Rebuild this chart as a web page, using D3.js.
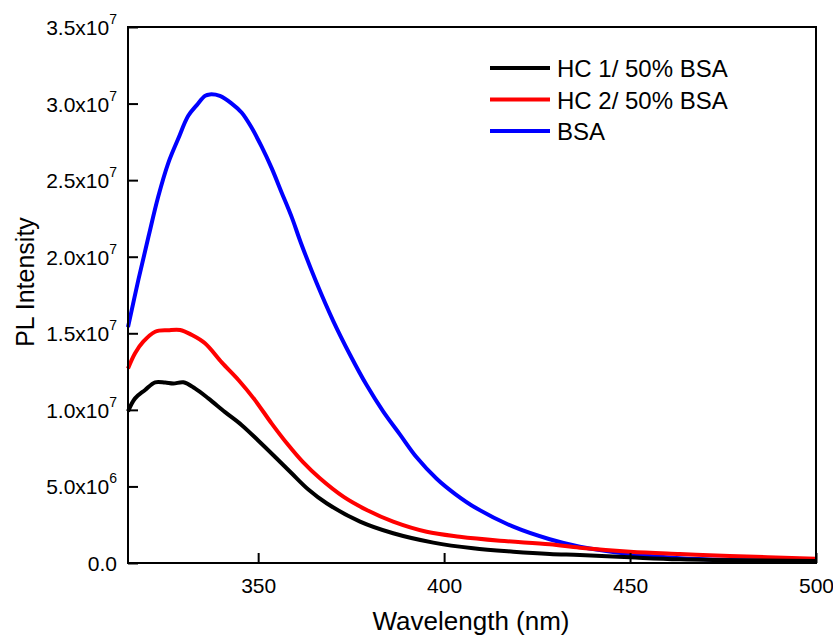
<html lang="en">
<head>
<meta charset="utf-8">
<title>PL Intensity</title>
<script src="https://cdnjs.cloudflare.com/ajax/libs/d3/7.8.5/d3.min.js"></script>
<style>
  body { margin: 0; background: #fff; }
  svg { font-family: Arial, "Liberation Sans", sans-serif; }
</style>
</head>
<body>
<div id="chart"></div>
<script>
// wavelength (nm) / intensity (x1e7)
var blueX = [315, 317.8, 320.5, 323.1, 325.8, 328.5, 331.2, 333.5, 335.7, 337, 339.7, 342.9, 345.6, 348.3, 350.9, 353.6, 356.3, 359, 361.5, 365.7, 370.2, 374.7, 379.2, 383.6, 388.1, 392.6, 398, 403, 408.7, 418.6, 428.4, 436.5, 450, 463.4, 476.8, 500];
var blueY = [1.54, 1.85, 2.13, 2.39, 2.61, 2.77, 2.92, 2.99, 3.05, 3.06, 3.05, 3.00, 2.94, 2.84, 2.72, 2.58, 2.42, 2.26, 2.09, 1.83, 1.58, 1.36, 1.16, 0.99, 0.84, 0.69, 0.55, 0.45, 0.357, 0.237, 0.155, 0.106, 0.059, 0.031, 0.02, 0.013];

var redX = [315, 316.9, 319.1, 322.3, 325.8, 329, 332.1, 335.7, 340.2, 344.7, 349.1, 353.6, 358.1, 362, 366.6, 372.9, 379.2, 386.3, 395.3, 404.2, 415, 428.4, 436.5, 450, 463.4, 476.8, 500];
var redY = [1.27, 1.37, 1.445, 1.51, 1.52, 1.522, 1.49, 1.435, 1.31, 1.195, 1.065, 0.912, 0.77, 0.66, 0.553, 0.433, 0.346, 0.27, 0.204, 0.172, 0.146, 0.122, 0.10, 0.074, 0.059, 0.046, 0.028];

var blackX = [315, 316.9, 319.6, 322.3, 325, 327.2, 329.9, 333, 336.6, 341.1, 345.6, 350, 354.5, 359, 363.5, 368.4, 377.4, 386.3, 397.1, 407.8, 418.6, 428.4, 436.5, 450, 463.4, 500];
var blackY = [0.99, 1.075, 1.13, 1.18, 1.178, 1.172, 1.18, 1.14, 1.075, 0.985, 0.90, 0.80, 0.694, 0.586, 0.48, 0.39, 0.27, 0.194, 0.133, 0.096, 0.074, 0.059, 0.052, 0.037, 0.024, 0.013];

var seriesNames = ["HC 1/ 50% BSA", "HC 2/ 50% BSA", "BSA"];
var seriesColors = ["#000000", "#ff0000", "#0000ff"];

var xTicks = [350, 400, 450, 500];
var yTicks = [0, 0.5e7, 1.0e7, 1.5e7, 2.0e7, 2.5e7, 3.0e7, 3.5e7];
var yTickLabels = [["0.0", ""], ["5.0x10", "6"], ["1.0x10", "7"], ["1.5x10", "7"], ["2.0x10", "7"],
                   ["2.5x10", "7"], ["3.0x10", "7"], ["3.5x10", "7"]];

var W = 833, H = 635;
var plot = {left: 128, right: 816, top: 27, bottom: 563};

var svg = d3.select("#chart").append("svg")
    .attr("width", W)
    .attr("height", H);

var x = d3.scaleLinear().domain([315, 500]).range([plot.left, plot.right]);
var y = d3.scaleLinear().domain([0, 3.5e7]).range([plot.bottom, plot.top]);

function pts(xs, ys) {
    return xs.map(function(d, i) { return [d, ys[i] * 1e7]; });
}
var series = [pts(blackX, blackY), pts(redX, redY), pts(blueX, blueY)];

var line = d3.line()
    .x(function(d) { return x(d[0]); })
    .y(function(d) { return y(d[1]); })
    .curve(d3.curveCatmullRom.alpha(0.5));

// curves, blue first so red/black sit on top near the tail
[2, 1, 0].forEach(function(i) {
    svg.append("path")
        .attr("d", line(series[i]))
        .attr("fill", "none")
        .attr("stroke", seriesColors[i])
        .attr("stroke-width", 4)
        .attr("stroke-linejoin", "round");
});

// frame
svg.append("rect")
    .attr("x", plot.left).attr("y", plot.top)
    .attr("width", plot.right - plot.left).attr("height", plot.bottom - plot.top)
    .attr("fill", "none").attr("stroke", "#000").attr("stroke-width", 2);

// bottom axis, ticks pointing in
var xAxis = svg.append("g")
    .attr("transform", "translate(0," + plot.bottom + ")")
    .call(d3.axisBottom(x).tickValues(xTicks).tickSizeInner(-10).tickSizeOuter(0).tickPadding(15));
xAxis.select(".domain").remove();
xAxis.attr("font-size", 21).attr("font-family", null);
xAxis.selectAll(".tick line").attr("stroke", "#000").attr("stroke-width", 2);
xAxis.selectAll(".tick text").attr("fill", "#000");

// left axis with superscript labels
var yAxis = svg.append("g")
    .attr("transform", "translate(" + plot.left + ",0)")
    .call(d3.axisLeft(y).tickValues(yTicks).tickSizeInner(-10).tickSizeOuter(0).tickFormat(""));
yAxis.select(".domain").remove();
yAxis.selectAll(".tick line").attr("stroke", "#000").attr("stroke-width", 2);

yTicks.forEach(function(v, i) {
    var t = svg.append("text")
        .attr("x", 117)
        .attr("y", y(v) + 8)
        .attr("text-anchor", "end")
        .attr("font-size", 21)
        .attr("fill", "#000");
    t.append("tspan").text(yTickLabels[i][0]);
    if (yTickLabels[i][1]) {
        t.append("tspan").attr("font-size", 14).attr("dy", -11).text(yTickLabels[i][1]);
    }
});

// axis titles
svg.append("text")
    .attr("x", 471).attr("y", 630)
    .attr("text-anchor", "middle")
    .attr("font-size", 26)
    .text("Wavelength (nm)");

svg.append("text")
    .attr("transform", "translate(34,282) rotate(-90)")
    .attr("text-anchor", "middle")
    .attr("font-size", 25)
    .text("PL Intensity");

// legend
var legend = svg.append("g").attr("transform", "translate(490,68)");
seriesNames.forEach(function(name, i) {
    var g = legend.append("g").attr("transform", "translate(0," + (i * 31.5) + ")");
    g.append("line")
        .attr("x1", 0).attr("x2", 60)
        .attr("stroke", seriesColors[i]).attr("stroke-width", 4);
    g.append("text")
        .attr("x", 67).attr("y", 9)
        .attr("font-size", 24)
        .text(name);
});
</script>
</body>
</html>
